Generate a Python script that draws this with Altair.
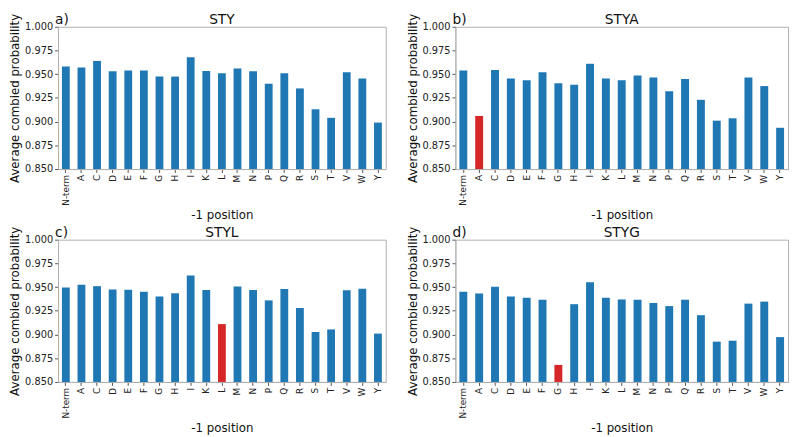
import altair as alt
import pandas as pd

positions = ["N-term", "A", "C", "D", "E", "F", "G", "H", "I", "K", "L",
             "M", "N", "P", "Q", "R", "S", "T", "V", "W", "Y"]

sty = [0.958, 0.957, 0.964, 0.953, 0.954, 0.954, 0.9475, 0.9475, 0.968, 0.9535, 0.951,
       0.956, 0.953, 0.940, 0.951, 0.935, 0.913, 0.904, 0.952, 0.9455, 0.899]
stya = [0.954, 0.906, 0.9545, 0.9455, 0.9435, 0.952, 0.9405, 0.939, 0.961, 0.9455, 0.9435,
        0.9485, 0.9465, 0.932, 0.945, 0.923, 0.901, 0.9035, 0.9465, 0.9375, 0.8935]
styl = [0.9497, 0.9524, 0.951, 0.9476, 0.9473, 0.945, 0.940, 0.9435, 0.9623, 0.947, 0.911,
        0.9506, 0.947, 0.936, 0.948, 0.928, 0.9027, 0.9054, 0.9466, 0.9483, 0.901]
styg = [0.9452, 0.9432, 0.9503, 0.940, 0.9388, 0.9367, 0.868, 0.932, 0.9551, 0.9388, 0.937,
        0.9367, 0.9333, 0.930, 0.9367, 0.9204, 0.8925, 0.8935, 0.9326, 0.9347, 0.8973]

titles = ["STY", "STYA", "STYL", "STYG"]
letters = ["a)", "b)", "c)", "d)"]
highlights = ["", "A", "L", "G"]
y_ticks = [0.850, 0.875, 0.900, 0.925, 0.950, 0.975, 1.000]

FONT = "DejaVu Sans"


def panel(vals, title, letter, hl, w, h):
    df = pd.DataFrame({
        "pos": positions,
        "val": vals,
        "kind": ["hl" if p == hl else "base" for p in positions],
    })
    bars = alt.Chart(df).mark_bar().encode(
        x=alt.X("pos:N", sort=positions,
                scale=alt.Scale(paddingInner=0.5, paddingOuter=0.25),
                axis=alt.Axis(title="-1 position", labelAngle=-90, labelPadding=2,
                              labelFontSize=9, tickSize=3.5, titlePadding=5)),
        y=alt.Y("val:Q", scale=alt.Scale(domain=[0.85, 1.0], zero=False, nice=False),
                axis=alt.Axis(values=y_ticks, format=".3f",
                              title="Average combied probability",
                              labelPadding=2, tickSize=3.5, titlePadding=3)),
        y2=alt.datum(0.85),
        color=alt.Color("kind:N", scale=alt.Scale(domain=["base", "hl"],
                                                  range=["#1f77b4", "#d62728"]),
                        legend=None),
    )
    letter_txt = alt.Chart(pd.DataFrame({"t": [letter]})).mark_text(
        align="left", baseline="alphabetic", fontSize=14, font=FONT, color="#111"
    ).encode(text="t:N", x=alt.value(-3), y=alt.value(-3))
    title_txt = alt.Chart(pd.DataFrame({"t": [title]})).mark_text(
        align="center", baseline="alphabetic", fontSize=14, font=FONT, color="#111"
    ).encode(text="t:N", x=alt.value(w / 2), y=alt.value(-3))
    return alt.layer(bars, letter_txt, title_txt).properties(width=w, height=h)


H = 145
pa = panel(sty, titles[0], letters[0], highlights[0], 334, H)
pb = panel(stya, titles[1], letters[1], highlights[1], 339, H)
pc = panel(styl, titles[2], letters[2], highlights[2], 334, H)
pd_ = panel(styg, titles[3], letters[3], highlights[3], 339, H)

chart = alt.vconcat(
    alt.hconcat(pa, pb, spacing=19),
    alt.hconcat(pc, pd_, spacing=19),
    spacing=3,
).properties(padding=0).configure_view(
    stroke="#b0b0b0", strokeWidth=1
).configure_axis(
    grid=False, domainColor="#b0b0b0", tickColor="#555555",
    labelFont=FONT, titleFont=FONT, labelFontSize=10, titleFontSize=12,
    labelColor="#222222", titleColor="#111111", titleFontWeight="normal",
)

chart.save("out.html", embed_options={"renderer": "svg", "actions": False})
